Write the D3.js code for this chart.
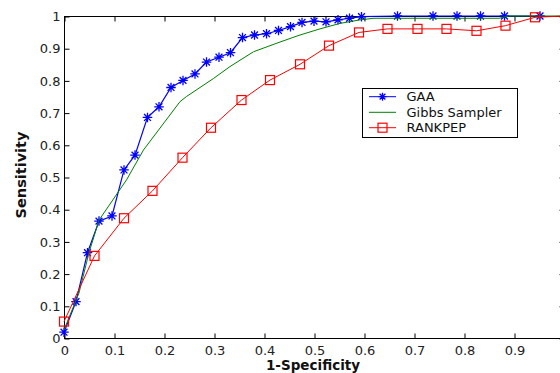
<!DOCTYPE html>
<html>
<head>
<meta charset="utf-8">
<script src="https://cdn.jsdelivr.net/npm/d3@7/dist/d3.min.js"></script>
<style>
  html, body { margin: 0; padding: 0; background: #fff; }
  svg { display: block; }
  text { font-family: "DejaVu Sans", sans-serif; }
</style>
</head>
<body>
<svg id="chart" width="560" height="373"></svg>
<script>
// ---- data ----
const gaaX = [0, 0.024, 0.047, 0.070, 0.096, 0.120, 0.142, 0.167, 0.190, 0.214, 0.238, 0.262, 0.285, 0.310, 0.333, 0.357, 0.381, 0.405, 0.429, 0.453, 0.476, 0.500, 0.524, 0.548, 0.571, 0.595, 0.667, 0.738, 0.786, 0.833, 0.881, 0.952];
const gaaY = [0.018, 0.113, 0.265, 0.363, 0.379, 0.522, 0.568, 0.685, 0.718, 0.778, 0.800, 0.820, 0.857, 0.872, 0.886, 0.933, 0.941, 0.945, 0.955, 0.967, 0.980, 0.984, 0.982, 0.988, 0.993, 0.998, 1, 1, 1, 1, 1, 1];

const gibbsX = [0, 0.03, 0.05, 0.07, 0.125, 0.159, 0.232, 0.245, 0.299, 0.332, 0.379, 0.43, 0.47, 0.512, 0.552, 0.592, 0.62, 0.87, 0.89, 1];
const gibbsY = [0.025, 0.14, 0.265, 0.366, 0.491, 0.584, 0.734, 0.75, 0.806, 0.843, 0.889, 0.918, 0.94, 0.960, 0.977, 0.988, 0.993, 0.993, 1, 1];

const rankX = [0, 0.061, 0.12, 0.177, 0.237, 0.294, 0.355, 0.412, 0.472, 0.53, 0.59, 0.647, 0.707, 0.765, 0.825, 0.883, 0.942, 1.0];
const rankY = [0.051, 0.255, 0.372, 0.457, 0.56, 0.653, 0.739, 0.801, 0.85, 0.908, 0.949, 0.96, 0.96, 0.96, 0.954, 0.97, 0.996, 1.0];

const xTicks = [0, 0.1, 0.2, 0.3, 0.4, 0.5, 0.6, 0.7, 0.8, 0.9, 1];
const yTicks = [0, 0.1, 0.2, 0.3, 0.4, 0.5, 0.6, 0.7, 0.8, 0.9, 1];
// the "1" label of the x axis lies beyond the picture's right edge in the reference
const xTickLabels = ["0", "0.1", "0.2", "0.3", "0.4", "0.5", "0.6", "0.7", "0.8", "0.9", ""];
const yTickLabels = ["0", "0.1", "0.2", "0.3", "0.4", "0.5", "0.6", "0.7", "0.8", "0.9", "1"];
const seriesNames = ["GAA", "Gibbs Sampler", "RANKPEP"];
const xLabel = "1-Specificity";
const yLabel = "Sensitivity";

// ---- layout ----
const svg = d3.select("#chart");
const L = 64, R = 564, T = 16, B = 338;
const x = d3.scaleLinear().domain([0, 1]).range([L, R]);
const y = d3.scaleLinear().domain([0, 1]).range([B, T]);

const tickLen = 5;

// axes (drawn first, data on top)
svg.append("rect").attr("x", L + 0.5).attr("y", T + 0.5).attr("width", R - L).attr("height", B - T)
  .attr("fill", "none").attr("stroke", "#000").attr("stroke-width", 1);

const axBottom = svg.append("g").attr("transform", `translate(0.5,${B + 0.5})`)
  .call(d3.axisBottom(x).tickValues(xTicks).tickSize(-tickLen).tickSizeOuter(0).tickPadding(7)
    .tickFormat((d, i) => xTickLabels[i]));
axBottom.select(".domain").remove();
axBottom.selectAll("text").attr("font-family", "DejaVu Sans").attr("font-size", 13).attr("fill", "#222");

const axTop = svg.append("g").attr("transform", `translate(0.5,${T + 0.5})`)
  .call(d3.axisTop(x).tickValues(xTicks).tickSize(-tickLen).tickSizeOuter(0).tickFormat(""));
axTop.select(".domain").remove();

const axLeft = svg.append("g").attr("transform", `translate(${L + 0.5},0.5)`)
  .call(d3.axisLeft(y).tickValues(yTicks).tickSize(-tickLen).tickSizeOuter(0).tickPadding(4)
    .tickFormat((d, i) => yTickLabels[i]));
axLeft.select(".domain").remove();
axLeft.selectAll("text").attr("font-family", "DejaVu Sans").attr("font-size", 13).attr("fill", "#222");

const axRight = svg.append("g").attr("transform", `translate(${R + 0.5},0.5)`)
  .call(d3.axisRight(y).tickValues(yTicks).tickSize(-tickLen).tickSizeOuter(0).tickFormat(""));
axRight.select(".domain").remove();

svg.selectAll(".tick line").attr("stroke", "#000");

// axis labels
svg.append("text").attr("x", (L + R) / 2 - 1).attr("y", 369.8).attr("text-anchor", "middle")
  .attr("font-size", 13.5).attr("font-weight", "bold").attr("fill", "#111").text(xLabel);
svg.append("text").attr("transform", `translate(26,${(T + B) / 2 - 2}) rotate(-90)`).attr("text-anchor", "middle")
  .attr("font-size", 14.5).attr("font-weight", "bold").attr("fill", "#111").text(yLabel);

// ---- series ----
const line = d3.line().x(d => x(d[0])).y(d => y(d[1]));
const gaa = gaaX.map((v, i) => [v, gaaY[i]]);
const gibbs = gibbsX.map((v, i) => [v, gibbsY[i]]);
const rank = rankX.map((v, i) => [v, rankY[i]]);

const blue = "#0000ff", green = "#008000", red = "#ff0000";

function star(g, cx, cy, s, color) {
  const h = s / 2, d = s * 0.36;
  const p = `M${cx - h},${cy}L${cx + h},${cy}M${cx},${cy - h}L${cx},${cy + h}` +
            `M${cx - d},${cy - d}L${cx + d},${cy + d}M${cx - d},${cy + d}L${cx + d},${cy - d}`;
  g.append("path").attr("d", p).attr("stroke", color).attr("stroke-width", 1.3).attr("fill", "none");
}

const gG = svg.append("g");
gG.append("path").datum(gaa).attr("d", line).attr("fill", "none").attr("stroke", blue).attr("stroke-width", 1.2);
gaa.forEach(d => star(gG, x(d[0]), y(d[1]), 9.5, blue));

const gB = svg.append("g");
gB.append("path").datum(gibbs).attr("d", line).attr("fill", "none").attr("stroke", green).attr("stroke-width", 1);

const gR = svg.append("g");
gR.append("path").datum(rank).attr("d", line).attr("fill", "none").attr("stroke", red).attr("stroke-width", 1);
gR.selectAll("rect").data(rank.filter(d => d[0] < 1)).enter().append("rect")
  .attr("x", d => x(d[0]) - 4.5).attr("y", d => y(d[1]) - 4.5)
  .attr("width", 9).attr("height", 9)
  .attr("fill", "none").attr("stroke", red).attr("stroke-width", 1.2);

// ---- legend ----
const lg = svg.append("g");
lg.append("rect").attr("x", 362.5).attr("y", 88.5).attr("width", 155).attr("height", 49)
  .attr("fill", "#fff").attr("stroke", "#000").attr("stroke-width", 1);
const rowsY = [96.7, 112.3, 127.7];
const colors = [blue, green, red];
seriesNames.forEach((name, i) => {
  const yy = rowsY[i];
  lg.append("line").attr("x1", 369).attr("x2", 396).attr("y1", yy).attr("y2", yy)
    .attr("stroke", colors[i]).attr("stroke-width", 1);
  if (i === 0) star(lg, 382.5, yy, 8, blue);
  if (i === 2) lg.append("rect").attr("x", 378).attr("y", yy - 4.5).attr("width", 9).attr("height", 9)
    .attr("fill", "none").attr("stroke", red).attr("stroke-width", 1.2);
  lg.append("text").attr("x", 406.5).attr("y", yy).attr("dy", "0.36em")
    .attr("font-size", 13).attr("fill", "#111").text(name);
});
</script>
</body>
</html>
